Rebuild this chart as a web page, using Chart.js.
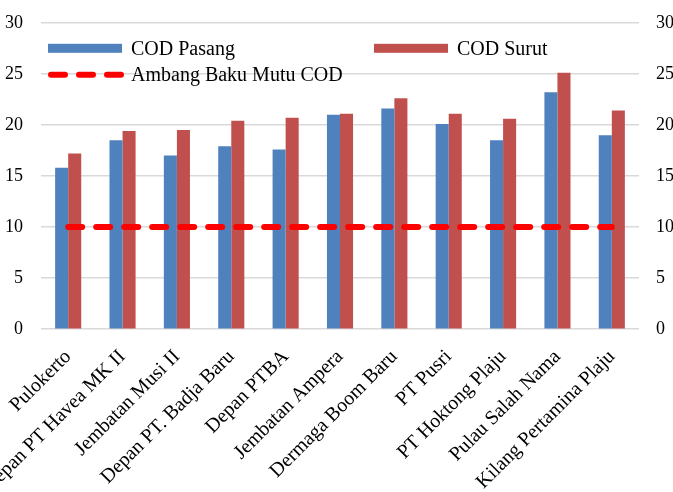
<!DOCTYPE html>
<html>
<head>
<meta charset="utf-8">
<script src="https://cdn.jsdelivr.net/npm/chart.js@4.4.1/dist/chart.umd.min.js"></script>
<style>
  html, body { margin: 0; padding: 0; background: #fff; overflow: hidden; }
  #wrap { position: relative; width: 706px; height: 512px; margin-left: -15px; margin-top: -6px; }
</style>
</head>
<body>
<div id="wrap"><canvas id="codChart"></canvas></div>
<script>
// --- Data COD per lokasi ---
const lokasi = [
    'Pulokerto', 'Depan PT Havea MK II', 'Jembatan Musi II', 'Depan PT. Badja Baru',
    'Depan PTBA', 'Jembatan Ampera', 'Dermaga Boom Baru', 'PT Pusri',
    'PT Hoktong Plaju', 'Pulau Salah Nama', 'Kilang Pertamina Plaju'
];
const codPasang = [15.8, 18.5, 17.0, 17.9, 17.6, 21.0, 21.6, 20.1, 18.5, 23.2, 19.0];
const codSurut  = [17.2, 19.4, 19.5, 20.4, 20.7, 21.1, 22.6, 21.1, 20.6, 25.1, 21.4];
const ambangBaku = [10, 10, 10, 10, 10, 10, 10, 10, 10, 10, 10];
const yTicks = [0, 5, 10, 15, 20, 25, 30];

const fontSerif = "'Liberation Serif', 'Times New Roman', serif";

// Legend digambar di dalam area chart (gaya Excel, 2 kolom)
const insideLegend = {
    id: 'insideLegend',
    afterDraw(chart) {
        const ctx = chart.ctx;
        const area = chart.chartArea;
        const ds = chart.data.datasets;
        const items = [
            { ds: ds[0], x: area.left + 7, y: area.top + 26 },
            { ds: ds[1], x: area.left + 333, y: area.top + 26 },
            { ds: ds[2], x: area.left + 7, y: area.top + 52 }
        ];
        ctx.save();
        ctx.font = '20px ' + fontSerif;
        ctx.textBaseline = 'middle';
        items.forEach(it => {
            if (it.ds.type === 'line') {
                ctx.save();
                ctx.strokeStyle = it.ds.borderColor;
                ctx.lineWidth = it.ds.borderWidth;
                ctx.lineCap = 'round';
                ctx.setLineDash(it.ds.borderDash);
                ctx.beginPath();
                ctx.moveTo(it.x + 3, it.y);
                ctx.lineTo(it.x + 74, it.y);
                ctx.stroke();
                ctx.restore();
            } else {
                ctx.fillStyle = it.ds.backgroundColor;
                ctx.fillRect(it.x, it.y - 5, 74, 9);
            }
            ctx.fillStyle = '#000';
            ctx.fillText(it.ds.label, it.x + 83, it.y + 1);
        });
        ctx.restore();
    }
};

const ctx = document.getElementById('codChart').getContext('2d');
new Chart(ctx, {
    data: {
        labels: lokasi,
        datasets: [{
            type: 'bar',
            label: 'COD Pasang',
            data: codPasang,
            backgroundColor: '#4F81BD',
            categoryPercentage: 0.48,
            barPercentage: 1.0,
            order: 1
        }, {
            type: 'bar',
            label: 'COD Surut',
            data: codSurut,
            backgroundColor: '#C0504D',
            categoryPercentage: 0.48,
            barPercentage: 1.0,
            order: 1
        }, {
            type: 'line',
            label: 'Ambang Baku Mutu COD',
            data: ambangBaku,
            borderColor: '#FF0000',
            borderWidth: 6,
            borderDash: [14, 14],
            borderCapStyle: 'round',
            pointRadius: 0,
            fill: false,
            yAxisID: 'y1',
            order: 0
        }]
    },
    options: {
        responsive: true,
        maintainAspectRatio: false,
        animation: false,
        layout: { padding: { top: 8, left: 2, right: 0, bottom: 0 } },
        scales: {
            x: {
                grid: { display: false },
                border: { display: false },
                ticks: {
                    color: '#000',
                    font: { family: fontSerif, size: 20 },
                    minRotation: 45,
                    maxRotation: 45,
                    padding: 8,
                    autoSkip: false
                }
            },
            y: {
                position: 'left',
                min: 0,
                max: 30,
                afterBuildTicks: axis => { axis.ticks = yTicks.map(v => ({ value: v })); },
                grid: { color: '#D9D9D9', lineWidth: 1.5, drawTicks: false },
                border: { display: false },
                ticks: {
                    color: '#000',
                    font: { family: fontSerif, size: 18 },
                    padding: 18
                }
            },
            y1: {
                position: 'right',
                min: 0,
                max: 30,
                afterBuildTicks: axis => { axis.ticks = yTicks.map(v => ({ value: v })); },
                grid: { display: false, drawTicks: false },
                border: { display: false },
                ticks: {
                    color: '#000',
                    font: { family: fontSerif, size: 18 },
                    padding: 17
                }
            }
        },
        plugins: {
            legend: { display: false },
            tooltip: { enabled: false }
        }
    },
    plugins: [insideLegend]
});
</script>
</body>
</html>
